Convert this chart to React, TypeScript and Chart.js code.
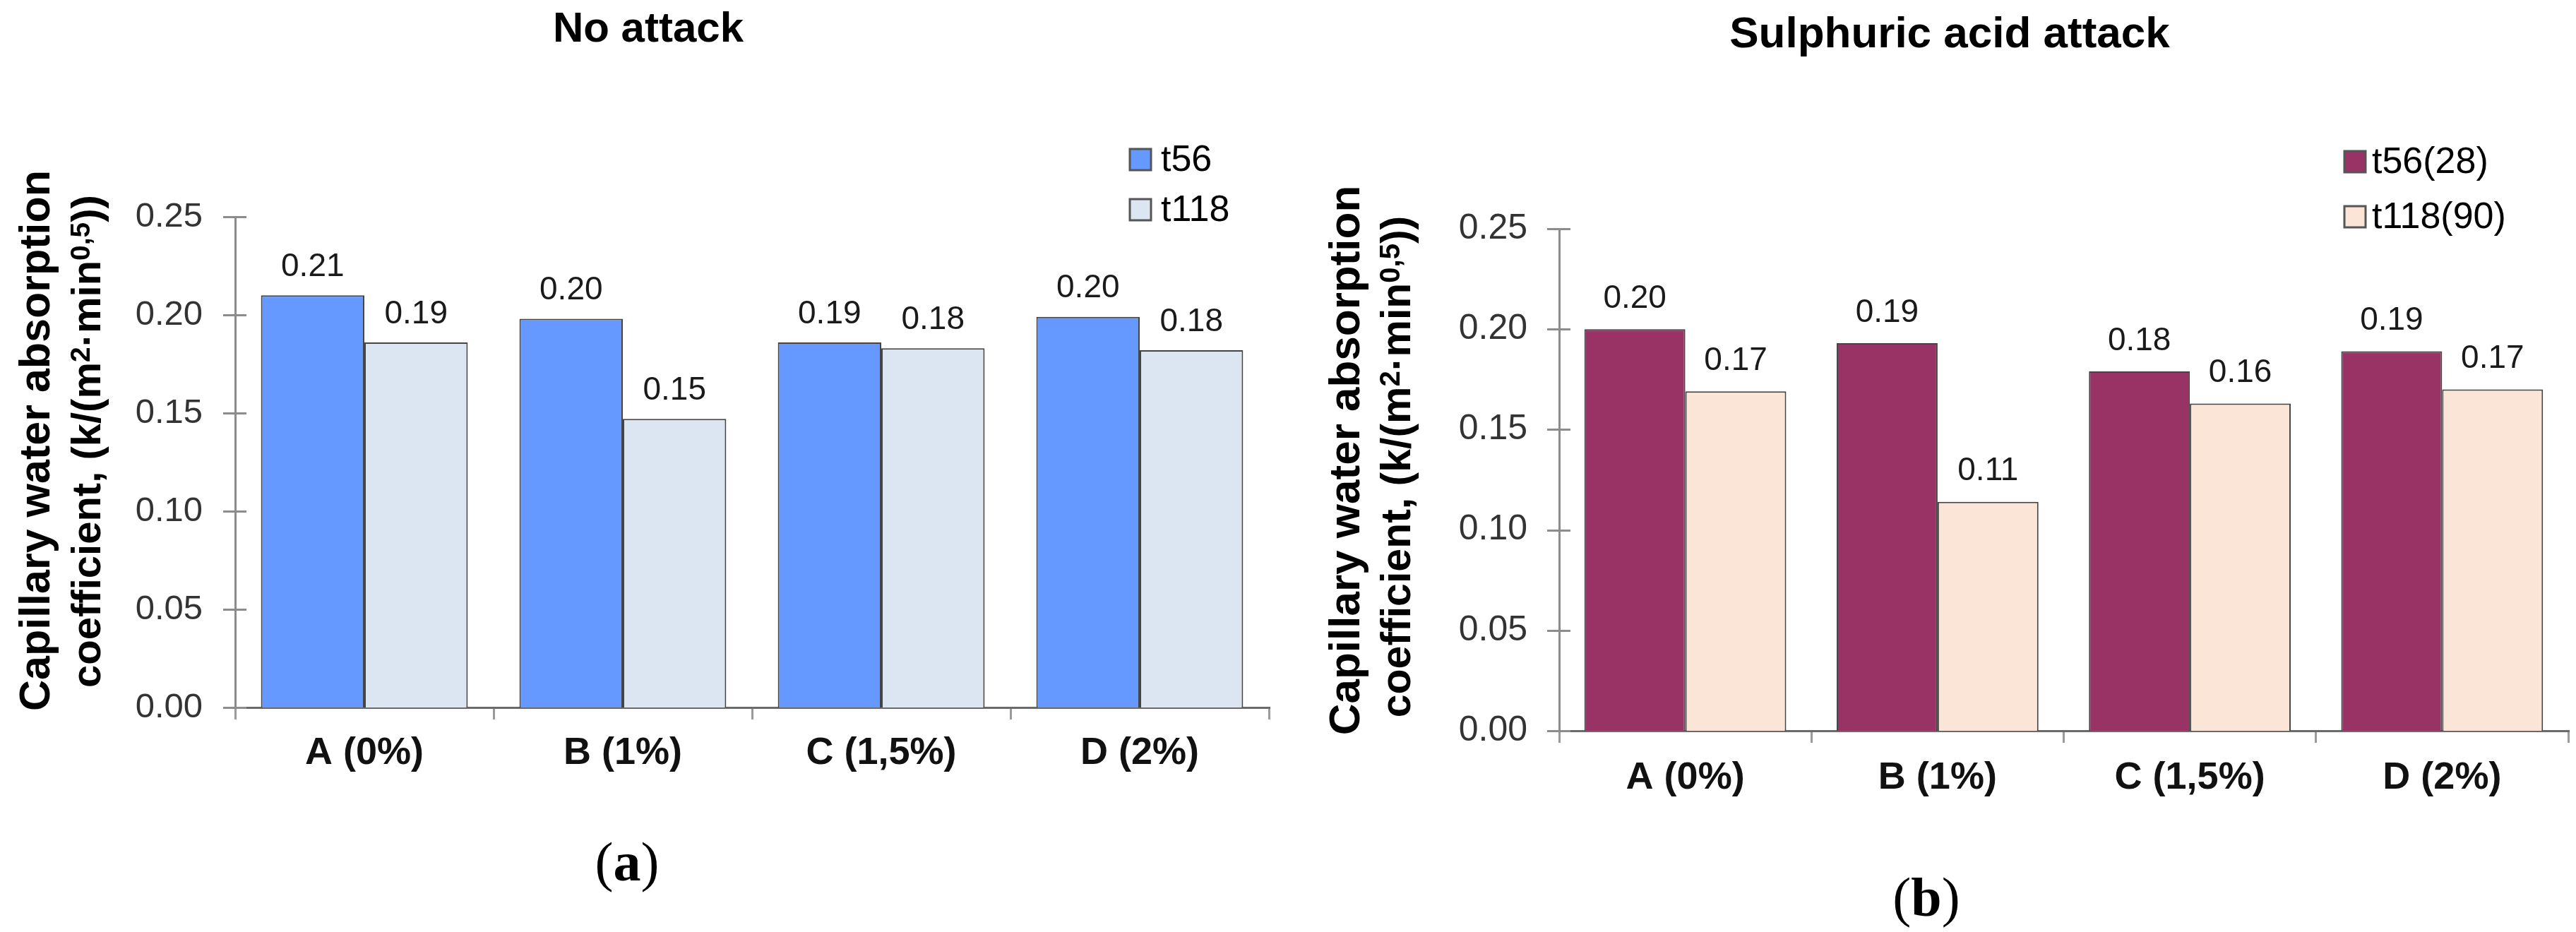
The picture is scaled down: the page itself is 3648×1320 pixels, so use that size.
import React, { useEffect, useRef } from 'react';
import { Chart, registerables } from 'chart.js';

Chart.register(...registerables);
Chart.defaults.font.family = '"Liberation Sans", Arial, sans-serif';

const categories = ['A (0%)', 'B (1%)', 'C (1,5%)', 'D (2%)'];
const noAttackT56 = [0.21, 0.198, 0.186, 0.199];
const noAttackT118 = [0.186, 0.147, 0.183, 0.182];
const acidT56 = [0.2, 0.193, 0.179, 0.189];
const acidT118 = [0.169, 0.114, 0.163, 0.17];
const yTickValues = [0, 0.05, 0.1, 0.15, 0.2, 0.25];
const leftTitle = 'No attack';
const rightTitle = 'Sulphuric acid attack';
const leftLegend = ['t56', 't118'];
const rightLegend = ['t56(28)', 't118(90)'];
const yTitleLine1 = 'Capillary water absorption';
const yTitleLine2 = [
  { text: 'coefficient, (k/(m', sup: false },
  { text: '2', sup: true },
  { text: '·min', sup: false },
  { text: '0,5', sup: true },
  { text: '))', sup: false },
];
const leftCaption = 'a';
const rightCaption = 'b';

type Layout = {
  canvasLeft: number;
  width: number;
  height: number;
  area: { left: number; right: number; top: number; bottom: number };
  tickPad: number;
  tickFont: number;
  xFont: number;
  xPad: number;
  labelFont: number;
  labelGap: number;
  titleX: number;
  titleBase: number;
  titleFont: number;
  legendBoxX: number;
  legendTextX: number;
  legendRows: number[];
  legendFont: number;
  yTitleX1: number;
  yTitleX2: number;
  yTitleCY1: number;
  yTitleCY2: number;
  yTitleFont1: number;
  yTitleFont2: number;
};

const leftLayout: Layout = {
  canvasLeft: 0,
  width: 1824,
  height: 1320,
  area: { left: 333, right: 1797, top: 307, bottom: 1002 },
  tickPad: 46,
  tickFont: 49,
  xFont: 54,
  xPad: 16,
  labelFont: 46,
  labelGap: 40,
  titleX: 918,
  titleBase: 59,
  titleFont: 60,
  legendBoxX: 1600,
  legendTextX: 1644,
  legendRows: [226, 297],
  legendFont: 52,
  yTitleX1: 70,
  yTitleX2: 142,
  yTitleCY1: 624,
  yTitleCY2: 625,
  yTitleFont1: 61,
  yTitleFont2: 58,
};

const rightLayout: Layout = {
  canvasLeft: 1824,
  width: 1824,
  height: 1320,
  area: { left: 384, right: 1813, top: 324, bottom: 1035 },
  tickPad: 45,
  tickFont: 50,
  xFont: 54,
  xPad: 18,
  labelFont: 46,
  labelGap: 43,
  titleX: 937,
  titleBase: 67,
  titleFont: 62,
  legendBoxX: 1496,
  legendTextX: 1535,
  legendRows: [229, 307],
  legendFont: 52,
  yTitleX1: 101,
  yTitleX2: 173,
  yTitleCY1: 652,
  yTitleCY2: 661,
  yTitleFont1: 62,
  yTitleFont2: 59,
};

const FONT = '"Liberation Sans", Arial, sans-serif';

function Panel(props: {
  layout: Layout;
  title: string;
  legend: string[];
  series: number[][];
  colors: string[];
}) {
  const ref = useRef<HTMLCanvasElement | null>(null);
  const { layout: L, title, legend, series, colors } = props;

  useEffect(() => {
    const canvas = ref.current;
    if (!canvas) return;
    const XH = 120;

    const decor = {
      id: 'decor',
      afterDraw(chart: any) {
        const ctx = chart.ctx as CanvasRenderingContext2D;
        const yScale = chart.scales.y;
        ctx.save();
        // y tick marks crossing the axis
        ctx.strokeStyle = '#8c8c8c';
        ctx.lineWidth = 3;
        for (const v of yTickValues) {
          const py = Math.round(yScale.getPixelForValue(v)) + 0.5;
          ctx.beginPath();
          ctx.moveTo(L.area.left - 17, py);
          ctx.lineTo(L.area.left + 16, py);
          ctx.stroke();
        }
        // data labels
        ctx.fillStyle = '#1a1a1a';
        ctx.font = `${L.labelFont}px ${FONT}`;
        ctx.textAlign = 'center';
        ctx.textBaseline = 'middle';
        chart.data.datasets.forEach((ds: any, di: number) => {
          const meta = chart.getDatasetMeta(di);
          meta.data.forEach((el: any, i: number) => {
            const v = ds.data[i] as number;
            ctx.fillText(v.toFixed(2), el.x, el.y - L.labelGap);
          });
        });
        // title
        ctx.fillStyle = '#000';
        ctx.font = `bold ${L.titleFont}px ${FONT}`;
        ctx.textAlign = 'center';
        ctx.textBaseline = 'alphabetic';
        ctx.fillText(title, L.titleX, L.titleBase);
        // legend
        ctx.font = `${L.legendFont}px ${FONT}`;
        ctx.textAlign = 'left';
        ctx.textBaseline = 'middle';
        legend.forEach((name, i) => {
          const cy = L.legendRows[i];
          ctx.fillStyle = colors[i];
          ctx.fillRect(L.legendBoxX, cy - 15, 30, 30);
          ctx.strokeStyle = '#555';
          ctx.lineWidth = 3;
          ctx.strokeRect(L.legendBoxX, cy - 15, 30, 30);
          ctx.fillStyle = '#000';
          ctx.fillText(name, L.legendTextX, cy + 2);
        });
        // y title (rotated)
        ctx.fillStyle = '#000';
        ctx.textBaseline = 'alphabetic';
        ctx.save();
        ctx.translate(L.yTitleX1, L.yTitleCY1);
        ctx.rotate(-Math.PI / 2);
        ctx.font = `bold ${L.yTitleFont1}px ${FONT}`;
        ctx.textAlign = 'center';
        ctx.fillText(yTitleLine1, 0, 0);
        ctx.restore();
        ctx.save();
        ctx.translate(L.yTitleX2, L.yTitleCY2);
        ctx.rotate(-Math.PI / 2);
        ctx.textAlign = 'left';
        const mainFont = `bold ${L.yTitleFont2}px ${FONT}`;
        const supFont = `bold ${Math.round(L.yTitleFont2 * 0.67)}px ${FONT}`;
        let total = 0;
        for (const seg of yTitleLine2) {
          ctx.font = seg.sup ? supFont : mainFont;
          total += ctx.measureText(seg.text).width;
        }
        let x = -total / 2;
        for (const seg of yTitleLine2) {
          ctx.font = seg.sup ? supFont : mainFont;
          ctx.fillText(seg.text, x, seg.sup ? -L.yTitleFont2 * 0.26 : 0);
          x += ctx.measureText(seg.text).width;
        }
        ctx.restore();
        ctx.restore();
      },
    };

    const chart = new Chart(canvas, {
      type: 'bar',
      data: {
        labels: categories,
        datasets: series.map((s, i) => ({
          label: legend[i],
          data: s,
          backgroundColor: colors[i],
          borderColor: '#454545',
          borderWidth: 2,
          categoryPercentage: 0.8,
          barPercentage: 1.0,
        })),
      },
      options: {
        responsive: false,
        animation: false,
        devicePixelRatio: 1,
        layout: {
          padding: {
            left: 0,
            top: L.area.top,
            right: L.width - L.area.right,
            bottom: L.height - L.area.bottom - XH,
          },
        },
        plugins: {
          legend: { display: false },
          title: { display: false },
          tooltip: { enabled: false },
        },
        scales: {
          x: {
            grid: {
              display: true,
              drawOnChartArea: false,
              drawTicks: true,
              tickLength: 17,
              color: '#9a9a9a',
              lineWidth: 3,
              offset: true,
            },
            border: { display: true, color: '#6a6a6a', width: 3 },
            ticks: {
              font: { size: L.xFont, weight: 'bold' },
              color: '#111',
              padding: L.xPad,
              maxRotation: 0,
              autoSkip: false,
            },
            afterFit: (s: any) => {
              s.height = XH;
              s.paddingLeft = 0;
              s.paddingRight = 0;
            },
          },
          y: {
            min: 0,
            max: 0.25,
            grid: { display: false, drawTicks: false },
            border: { display: true, color: '#8c8c8c', width: 3 },
            ticks: {
              stepSize: 0.05,
              callback: (v: any) => Number(v).toFixed(2),
              font: { size: L.tickFont },
              color: '#333',
              padding: L.tickPad,
            },
            afterFit: (s: any) => {
              s.width = L.area.left;
              s.paddingTop = 0;
              s.paddingBottom = 0;
            },
          },
        },
      } as any,
      plugins: [decor],
    });
    return () => chart.destroy();
  }, []);

  return (
    <canvas
      ref={ref}
      width={L.width}
      height={L.height}
      style={{
        position: 'absolute',
        left: L.canvasLeft,
        top: 0,
        width: L.width,
        height: L.height,
      }}
    />
  );
}

function Caption(props: { letter: string; cx: number; cy: number }) {
  const size = 78;
  return (
    <div
      style={{
        position: 'absolute',
        left: props.cx - 150,
        width: 300,
        top: props.cy - size / 2,
        height: size,
        lineHeight: `${size}px`,
        textAlign: 'center',
        fontFamily: '"Liberation Serif", "DejaVu Serif", serif',
        fontSize: size,
        color: '#000',
      }}
    >
      (<b>{props.letter}</b>)
    </div>
  );
}

export default function App() {
  return (
    <div
      style={{
        position: 'absolute',
        left: 0,
        top: 0,
        width: 3648,
        height: 1320,
        background: '#fff',
        overflow: 'hidden',
      }}
    >
      <Panel
        layout={leftLayout}
        title={leftTitle}
        legend={leftLegend}
        series={[noAttackT56, noAttackT118]}
        colors={['#6699FF', '#DCE6F2']}
      />
      <Panel
        layout={rightLayout}
        title={rightTitle}
        legend={rightLegend}
        series={[acidT56, acidT118]}
        colors={['#993366', '#FBE5D6']}
      />
      <Caption letter={leftCaption} cx={888} cy={1221} />
      <Caption letter={rightCaption} cx={2728} cy={1271} />
    </div>
  );
}
